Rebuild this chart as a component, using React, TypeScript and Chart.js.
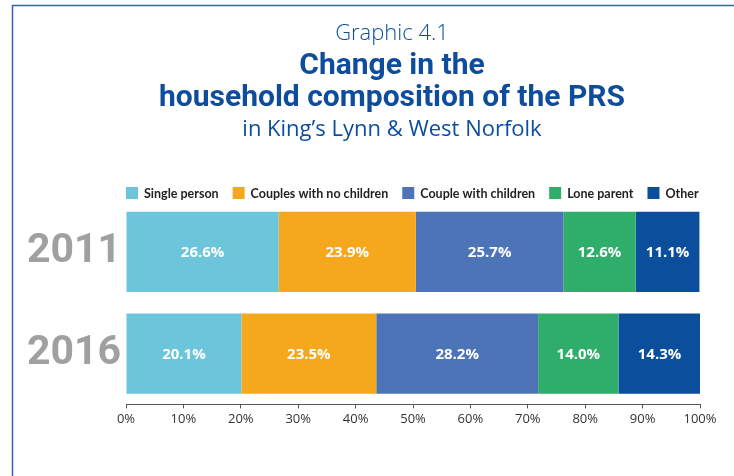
import React, { useEffect, useRef } from "react";
import { Chart, registerables } from "chart.js";

Chart.register(...registerables);

const years = ["2011", "2016"];
const categories = ["Single person", "Couples with no children", "Couple with children", "Lone parent", "Other"];
const values2011 = [26.6, 23.9, 25.7, 12.6, 11.1];
const values2016 = [20.1, 23.5, 28.2, 14.0, 14.3];
const colors = ["#6cc5db", "#f5a81c", "#4e74b8", "#2fad6b", "#0b4f9c"];
const headLine1 = "Graphic 4.1";
const headLine2 = "Change in the";
const headLine3 = "household composition of the PRS";
const headLine4 = "in King\u2019s Lynn & West Norfolk";

const TITLE_BLUE = "#0e4d9c";

const framePlugin = {
  id: "frame",
  beforeDraw(chart: any) {
    const ctx = chart.ctx;
    ctx.save();
    ctx.fillStyle = "#ffffff";
    ctx.fillRect(0, 0, chart.width, chart.height);
    ctx.strokeStyle = "#2f63b3";
    ctx.lineWidth = 1.5;
    ctx.beginPath();
    ctx.moveTo(12.5, chart.height);
    ctx.lineTo(12.5, 5.5);
    ctx.lineTo(chart.width, 5.5);
    ctx.stroke();
    ctx.restore();
  },
};

const headerPlugin = {
  id: "header",
  afterDraw(chart: any) {
    const ctx = chart.ctx;
    const cx = 392;
    ctx.save();
    ctx.fillStyle = TITLE_BLUE;
    ctx.textAlign = "center";
    ctx.textBaseline = "alphabetic";
    ctx.font = '300 22px "Open Sans", sans-serif';
    ctx.fillText(headLine1, cx, 40);
    ctx.font = 'bold 30px Roboto, "Open Sans", sans-serif';
    ctx.fillText(headLine2, cx, 74);
    ctx.fillText(headLine3, cx, 106);
    ctx.font = '22px "Open Sans", sans-serif';
    ctx.fillText(headLine4, cx, 136);
    ctx.restore();
  },
};

const legendPlugin = {
  id: "customLegend",
  afterDraw(chart: any) {
    const ctx = chart.ctx;
    const area = chart.chartArea;
    ctx.save();
    ctx.font = 'bold 12.5px "Lato", "Open Sans", sans-serif';
    ctx.textBaseline = "middle";
    ctx.textAlign = "left";
    let x = area.left;
    const yc = 193;
    chart.data.datasets.forEach((ds: any) => {
      ctx.fillStyle = ds.backgroundColor;
      ctx.fillRect(x, yc - 6, 12, 12);
      x += 18;
      ctx.fillStyle = "#1f1f1f";
      ctx.fillText(ds.label, x, yc + 0.5);
      x += ctx.measureText(ds.label).width + 14;
    });
    ctx.restore();
  },
};

const valueLabelPlugin = {
  id: "valueLabels",
  afterDatasetsDraw(chart: any) {
    const ctx = chart.ctx;
    ctx.save();
    ctx.font = 'bold 15px "Open Sans", sans-serif';
    ctx.fillStyle = "#ffffff";
    ctx.textAlign = "center";
    ctx.textBaseline = "middle";
    chart.data.datasets.forEach((ds: any, i: number) => {
      const meta = chart.getDatasetMeta(i);
      meta.data.forEach((bar: any, j: number) => {
        const v = ds.data[j];
        const cx = (bar.x + bar.base) / 2;
        ctx.fillText(v.toFixed(1) + "%", cx, bar.y + 1);
      });
    });
    ctx.restore();
  },
};

export default function App() {
  const canvasRef = useRef<HTMLCanvasElement | null>(null);

  useEffect(() => {
    document.body.style.margin = "0";
    const canvas = canvasRef.current;
    if (!canvas) return;
    const datasets = categories.map((label, i) => ({
      label,
      data: [values2011[i], values2016[i]],
      backgroundColor: colors[i],
      borderWidth: 0,
      barPercentage: 0.79,
      categoryPercentage: 1,
    }));
    const chart = new Chart(canvas, {
      type: "bar",
      data: { labels: years, datasets },
      options: {
        indexAxis: "y",
        animation: false,
        responsive: true,
        maintainAspectRatio: false,
        layout: { padding: { top: 201, right: 34, left: 0, bottom: 46 } },
        plugins: {
          legend: { display: false },
          title: { display: false },
          tooltip: { enabled: false },
        },
        scales: {
          x: {
            stacked: true,
            min: 0,
            max: 100,
            ticks: {
              stepSize: 10,
              callback: (v: any) => v + "%",
              color: "#333333",
              font: { family: '"Open Sans", sans-serif', size: 13 },
              padding: 3,
              maxRotation: 0,
            },
            grid: { display: true, drawOnChartArea: false, drawTicks: true, tickLength: 4, color: "#555555" },
            border: { display: true, color: "#555555", width: 1 },
          },
          y: {
            stacked: true,
            afterFit: (scale: any) => {
              scale.width = 126;
            },
            ticks: {
              color: "#a0a0a0",
              font: { family: 'Roboto, "Open Sans", sans-serif', size: 41, weight: "bold" },
              padding: 5,
            },
            grid: { display: false, drawTicks: false },
            border: { display: false },
          },
        },
      },
      plugins: [framePlugin, headerPlugin, legendPlugin, valueLabelPlugin],
    });
    return () => chart.destroy();
  }, []);

  return (
    <div style={{ position: "relative", width: 734, height: 476 }}>
      <canvas ref={canvasRef} />
    </div>
  );
}
